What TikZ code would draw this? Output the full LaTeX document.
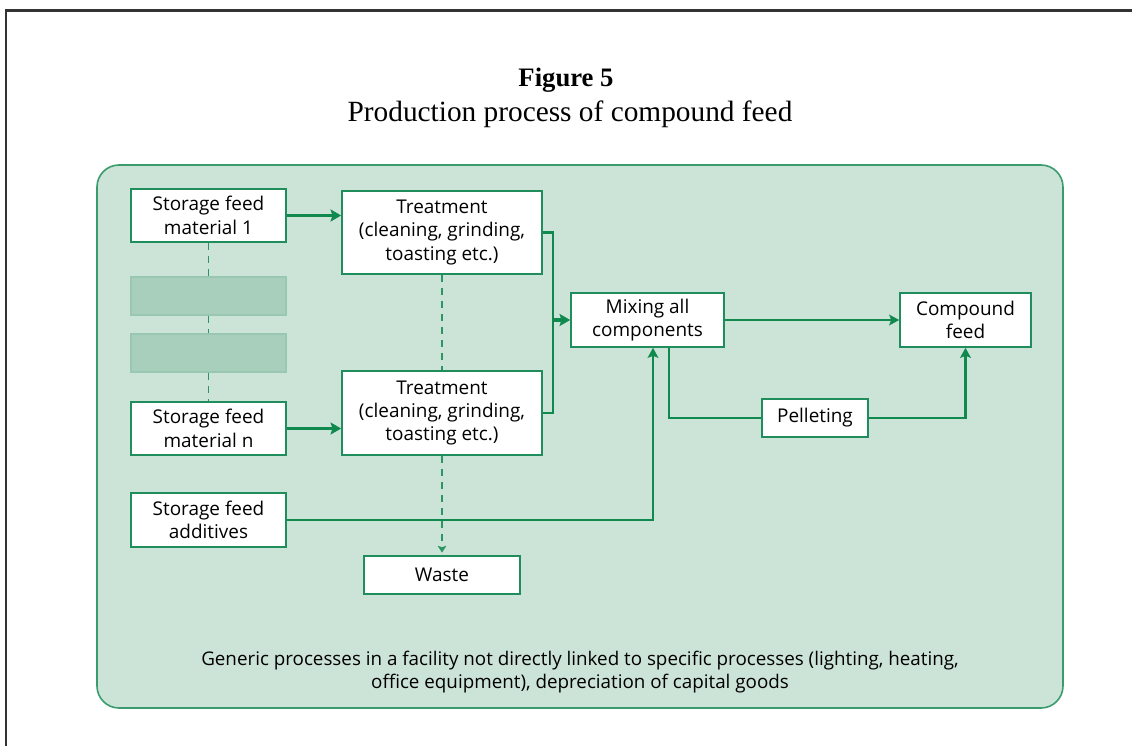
\documentclass[tikz,border=0pt]{standalone}
\usepackage{fontspec}
\setmainfont{Liberation Serif}
\setsansfont{Open Sans}
\usetikzlibrary{arrows.meta}

% one drawing unit = 0.75pt
\newdimen\pxu \pxu=0.75pt

\definecolor{panelfill}{HTML}{CCE3D7}
\definecolor{panelline}{HTML}{3A9C6E}
\definecolor{boxline}{HTML}{1F8E5C}
\definecolor{flow}{HTML}{10894F}
\definecolor{greyfill}{HTML}{A8CFBC}
\definecolor{greyline}{HTML}{9AC7B1}
\definecolor{frame}{HTML}{333333}

\begin{document}
\begin{tikzpicture}[x=0.75pt,y=-0.75pt,
  box/.style={draw=boxline, line width=1.6\pxu, fill=white, inner sep=0pt,
    align=center, text=black, font=\sffamily\fontsize{14.2}{17.5}\selectfont},
  placeholder/.style={draw=greyline, line width=1.2\pxu, fill=greyfill, inner sep=0pt},
  flowline/.style={draw=flow, line width=2.2\pxu},
  flowarrow/.style={flowline, -{Stealth[length=7.5pt,width=8pt,inset=1.5pt]}},
  thickarrow/.style={draw=flow, line width=3.2\pxu, -{Stealth[length=8pt,width=9pt,inset=1.5pt]}},
  dashline/.style={draw=flow!85!panelfill, line width=1.6\pxu, dash pattern=on 5.25pt off 4.5pt},
  dasharrow/.style={dashline, -{Stealth[length=5pt,width=6.5pt,inset=1pt]}}
]
\useasboundingbox (0,0) rectangle (1132,746);

% page frame
\draw[frame, line width=1.6pt] (6,746) -- (6,10.5) -- (1132,10.5);

% title
\node[font=\bfseries\fontsize{20}{24}\selectfont, anchor=base] (title) at (566,86) {Figure 5};
\node[font=\fontsize{22}{26}\selectfont, anchor=base] (subtitle) at (570,121) {Production process of compound feed};

% facility panel
\draw[draw=panelline, fill=panelfill, line width=1.6\pxu, rounded corners=16.5pt]
  (97,165) rectangle (1063,708);

% storage column
\node[box, minimum width=155\pxu, minimum height=53\pxu] (sf1) at (208.5,215.5) {Storage feed\\material 1};
\node[placeholder, minimum width=155\pxu, minimum height=38\pxu] (g1) at (208.5,296) {};
\node[placeholder, minimum width=155\pxu, minimum height=38\pxu] (g2) at (208.5,353) {};
\node[box, minimum width=155\pxu, minimum height=53\pxu] (sfn) at (208.5,428.5) {Storage feed\\material n};
\node[box, minimum width=155\pxu, minimum height=54\pxu] (add) at (208.5,520) {Storage feed\\additives};

% treatment column
\node[box, minimum width=200\pxu, minimum height=83\pxu] (tr1) at (442,232.5) {Treatment\\(cleaning, grinding,\\toasting etc.)};
\node[box, minimum width=200\pxu, minimum height=84\pxu] (tr2) at (442,413) {Treatment\\(cleaning, grinding,\\toasting etc.)};
\node[box, minimum width=156\pxu, minimum height=38\pxu] (waste) at (442,575) {Waste};

% mixing and product
\node[box, minimum width=153\pxu, minimum height=54\pxu] (mix) at (647.5,320) {Mixing all\\components};
\node[box, minimum width=131\pxu, minimum height=54\pxu] (cf) at (965.5,320) {Compound\\feed};
\node[box, minimum width=106\pxu, minimum height=38\pxu] (pel) at (815,418) {Pelleting};

% generic processes note
\node[align=center, font=\sffamily\fontsize{14.1}{17.25}\selectfont] (note) at (580,672)
  {Generic processes in a facility not directly linked to specific processes (lighting, heating,\\
   office equipment), depreciation of capital goods};

% helper points for the routed connectors
\coordinate (join) at (553,320);
\coordinate (down) at (669,418);
\coordinate (rise) at (653,519.5);

% storage to treatment
\draw[thickarrow] (sf1.east) -- (sf1.east -| tr1.west);
\draw[thickarrow] (sfn.east) -- (sfn.east -| tr2.west);

% further feed materials in between
\draw[dashline] (sf1.south) -- (g1.north);
\draw[dashline] (g1.south) -- (g2.north);
\draw[dashline] (g2.south) -- (sfn.north);
\draw[dashline] (tr1.south) -- (tr2.north);
\draw[dasharrow] (tr2.south) -- ([yshift=2pt]waste.north);

% treated materials merge into mixing
\draw[flowline] (tr1.east) -| (join) |- (tr2.east);
\draw[thickarrow] (join) -- (mix.west);

% additives go straight to mixing
\draw[flowarrow] (add.east) -| (rise |- mix.south);

% mixing to compound feed, direct or through pelleting
\draw[flowarrow] (mix.east) -- (cf.west);
\draw[flowline] (down |- mix.south) |- (pel.west);
\draw[flowarrow] (pel.east) -| (cf.south);

\end{tikzpicture}
\end{document}
